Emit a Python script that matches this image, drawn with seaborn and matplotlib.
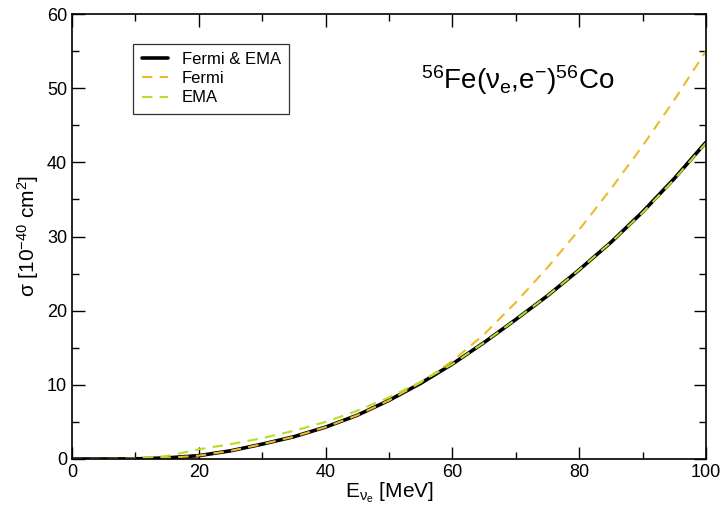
import matplotlib
matplotlib.use("Agg")
import matplotlib.pyplot as plt
import seaborn as sns
import numpy as np
from matplotlib.ticker import MultipleLocator

energy = [0, 5, 10, 15, 20, 25, 30, 35, 40, 45, 50, 55, 60, 65, 70, 75, 80, 85, 90, 95, 100]
sigma_fermi_ema = [0, 0, 0.02, 0.15, 0.45, 1.1, 2.0, 3.0, 4.3, 5.9, 7.9, 10.2, 12.8, 15.7, 18.8, 22.0, 25.5, 29.2, 33.3, 37.8, 42.7]
sigma_fermi = [0, 0, 0.02, 0.15, 0.45, 1.1, 2.0, 3.0, 4.3, 5.9, 7.9, 10.3, 13.2, 16.8, 21.1, 25.8, 30.9, 36.4, 42.2, 48.4, 55.0]
sigma_ema = [0, 0, 0.05, 0.4, 1.3, 2.0, 2.8, 3.8, 5.0, 6.5, 8.3, 10.4, 12.8, 15.7, 18.8, 22.0, 25.5, 29.2, 33.2, 37.7, 42.6]

sns.set_style("ticks")
plt.rcParams['font.family'] = ['Liberation Sans', 'DejaVu Sans']
plt.rcParams['mathtext.fontset'] = 'custom'
plt.rcParams['mathtext.rm'] = 'Liberation Sans'
plt.rcParams['mathtext.it'] = 'Liberation Sans'
plt.rcParams['mathtext.sf'] = 'Liberation Sans'
plt.rcParams['text.color'] = 'black'
plt.rcParams['axes.labelcolor'] = 'black'
plt.rcParams['xtick.color'] = 'black'
plt.rcParams['ytick.color'] = 'black'

fig = plt.figure(figsize=(7.24, 5.17), dpi=100)
ax = fig.add_axes([0.0994, 0.1122, 0.8756, 0.8607])

sns.lineplot(x=energy, y=sigma_fermi_ema, ax=ax, color="black", lw=2.6, label="Fermi & EMA")
sns.lineplot(x=energy, y=sigma_fermi, ax=ax, color="#EDBA2C", lw=1.5, label="Fermi")
sns.lineplot(x=energy, y=sigma_ema, ax=ax, color="#B4DE2A", lw=1.5, label="EMA")
for ln in ax.lines[1:]:
    ln.set_dashes([5, 3.5])

ax.set_xlim(0, 100)
ax.set_ylim(0, 60)
ax.xaxis.set_major_locator(MultipleLocator(20))
ax.xaxis.set_minor_locator(MultipleLocator(10))
ax.yaxis.set_major_locator(MultipleLocator(10))
ax.yaxis.set_minor_locator(MultipleLocator(5))
ax.tick_params(which="both", direction="in", top=True, right=True, labelsize=13,
               width=1, color="black", labelcolor="black")
ax.tick_params(which="major", length=9)
ax.tick_params(which="minor", length=5)
for sp in ax.spines.values():
    sp.set_visible(True)
    sp.set_linewidth(1.2)
    sp.set_color("black")

ax.set_xlabel(r"E$_{\nu_e}$ [MeV]", fontsize=15, labelpad=0, color="black")
ax.set_ylabel(r"σ [10$^{-40}$ cm$^{2}$]", fontsize=15, labelpad=4, color="black")

ax.text(0.55, 0.852, r"$^{56}$Fe($\nu_e$,e$^{-}$)$^{56}$Co", transform=ax.transAxes,
        fontsize=20, ha="left", va="center", color="black")

leg = ax.legend(loc="upper left", bbox_to_anchor=(0.097, 0.933), fontsize=12,
                frameon=True, fancybox=False, edgecolor="black", handlelength=1.6,
                borderpad=0.5, labelspacing=0.25, handletextpad=0.8, borderaxespad=0)
leg.get_frame().set_linewidth(0.9)
for t in leg.get_texts():
    t.set_color("black")

fig.savefig("out.png", dpi=100)
